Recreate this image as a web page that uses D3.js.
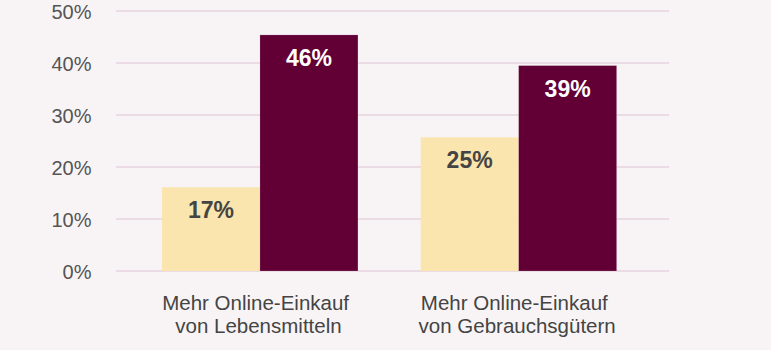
<!DOCTYPE html>
<html><head><meta charset="utf-8">
<script src="https://cdn.jsdelivr.net/npm/d3@7"></script>
<style>html,body{margin:0;padding:0;background:#f8f4f6;}svg{display:block;}</style>
</head><body>
<svg id="c" width="771" height="350"></svg>
<script>
const categories = [["Mehr Online-Einkauf ","von Lebensmitteln"],["Mehr Online-Einkauf ","von Gebrauchsgütern"]];
const seriesNames = ["A","B"];
const seriesA = [16.1, 25.7];
const seriesB = [45.4, 39.5];
const labelsA = ["17%","25%"];
const labelsB = ["46%","39%"];
const yTicks = [0,10,20,30,40,50];
const colors = ["#fae5ae","#620036"];
const labelColors = ["#444444","#ffffff"];
const FONT = "Liberation Sans, Arial, sans-serif";

const svg = d3.select("#c");
const y = d3.scaleLinear().domain([0,50]).range([271,11]);
const x0 = d3.scaleBand().domain(d3.range(categories.length)).range([115.4,663.2]).paddingInner(0.2424).paddingOuter(0.18);
const x1 = d3.scaleBand().domain(seriesNames).range([0,x0.bandwidth()]).padding(0);

// gridlines
svg.append("g").selectAll("line").data(yTicks).join("line")
  .attr("x1",116).attr("x2",669).attr("y1",d=>y(d)).attr("y2",d=>y(d))
  .attr("stroke","#e6d3de").attr("stroke-width",1.5);

// y labels
const yAxis = d3.axisLeft(y).tickValues(yTicks).tickFormat(d=>d+"%").tickSize(0).tickPadding(0);
const ya = svg.append("g").attr("transform","translate(91.5,0)").call(yAxis);
ya.select(".domain").remove();
ya.selectAll("text").attr("font-family",FONT).attr("font-size",20).attr("fill","#555555").attr("dy","0.35em");

const data = categories.map((c,i)=>({i, vals:[{s:"A",v:seriesA[i],l:labelsA[i],k:0},{s:"B",v:seriesB[i],l:labelsB[i],k:1}]}));

const g = svg.append("g").selectAll("g").data(data).join("g").attr("transform",d=>`translate(${x0(d.i)},0)`);
g.selectAll("rect").data(d=>d.vals).join("rect")
  .attr("x",d=>x1(d.s)).attr("width",x1.bandwidth())
  .attr("y",d=>y(d.v)).attr("height",d=>y(0)-y(d.v))
  .attr("fill",d=>colors[d.k])
  .attr("stroke",d=>d.k===1?"rgba(255,255,255,0.25)":"none").attr("stroke-width",0.6);
g.selectAll("text.v").data(d=>d.vals).join("text").attr("class","v")
  .attr("x",d=>x1(d.s)+x1.bandwidth()/2).attr("y",d=>y(d.v)+31)
  .attr("text-anchor","middle").attr("font-family",FONT).attr("font-weight","bold")
  .attr("font-size",23).attr("fill",d=>labelColors[d.k]).text(d=>d.l);

// category labels
const cl = svg.append("g").selectAll("text").data(categories).join("text")
  .attr("x",(d,i)=>x0(i)+x0.bandwidth()/2-1.5).attr("y",310)
  .attr("text-anchor","middle").attr("font-family",FONT)
  .attr("font-size",20.5).attr("fill","#444444").style("white-space","pre");
cl.selectAll("tspan").data(d=>d).join("tspan")
  .attr("x",function(){return d3.select(this.parentNode).attr("x");})
  .attr("dy",(d,j)=>j===0?0:23).text(d=>d);
</script>
</body></html>
